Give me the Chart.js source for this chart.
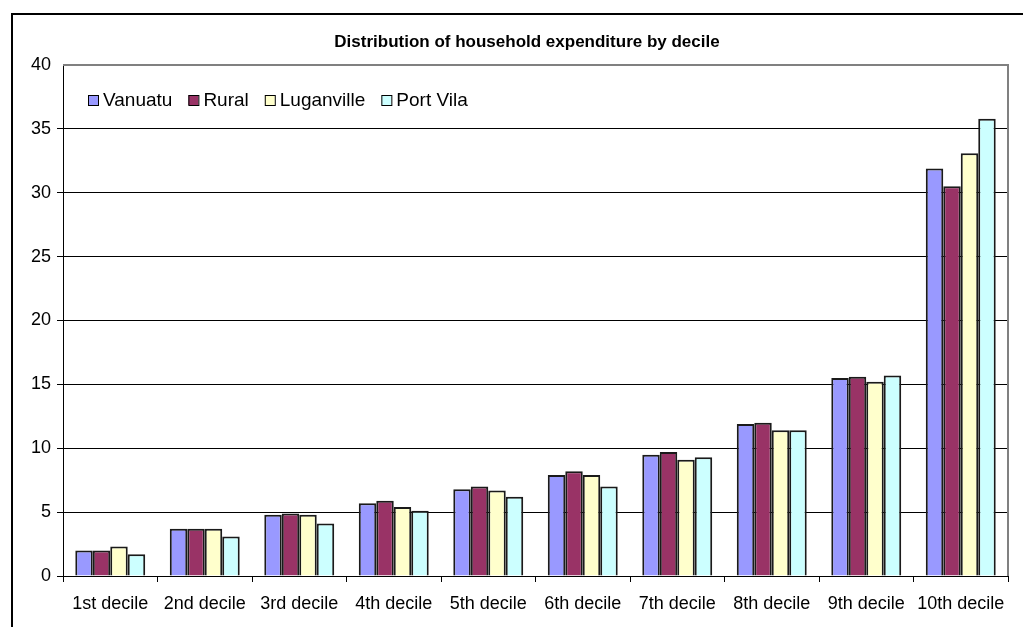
<!DOCTYPE html>
<html>
<head>
<meta charset="utf-8">
<title>Distribution of household expenditure by decile</title>
<script src="https://cdn.jsdelivr.net/npm/chart.js@4/dist/chart.umd.min.js"></script>
<style>
  html, body { margin: 0; padding: 0; background: #fff; }
  #wrap { position: relative; width: 1023px; height: 627px; overflow: hidden; }
  #frame { position: absolute; left: 11px; top: 13px; width: 1100px; height: 700px;
           border-left: 2px solid #000; border-top: 2px solid #000; box-sizing: border-box; }
  canvas { position: absolute; left: 0; top: 0; }
</style>
</head>
<body>
<div id="wrap">
  <div id="frame"></div>
  <canvas id="chart" width="1023" height="627"></canvas>
</div>
<script>
// Share of household expenditure (%) per decile
const deciles = ['1st decile', '2nd decile', '3rd decile', '4th decile', '5th decile',
                 '6th decile', '7th decile', '8th decile', '9th decile', '10th decile'];
const vanuatu    = [2.0, 3.7, 4.8, 5.7, 6.8, 7.9, 9.5, 11.9, 15.5, 31.9];
const rural      = [2.0, 3.7, 4.9, 5.9, 7.0, 8.2, 9.7, 12.0, 15.6, 30.5];
const luganville = [2.3, 3.7, 4.8, 5.4, 6.7, 7.9, 9.1, 11.4, 15.2, 33.1];
const portVila   = [1.7, 3.1, 4.1, 5.1, 6.2, 7.0, 9.3, 11.4, 15.7, 35.8];
const yTicks = [0, 5, 10, 15, 20, 25, 30, 35, 40];

const seriesNames  = ['Vanuatu', 'Rural', 'Luganville', 'Port Vila'];
const seriesValues = [vanuatu, rural, luganville, portVila];
const seriesColors = ['#9999FF', '#993366', '#FFFFCC', '#CCFFFF'];

const chartTitle = 'Distribution of household expenditure by decile';
const FONT = 'Arial, "Liberation Sans", sans-serif';

// Title centred over the framed chart, above the plot area
const framedTitle = {
  id: 'framedTitle',
  afterDraw(chart) {
    const { ctx } = chart;
    ctx.save();
    ctx.font = 'bold 17px ' + FONT;
    ctx.fillStyle = '#000';
    ctx.textAlign = 'center';
    ctx.textBaseline = 'middle';
    ctx.fillText(chartTitle, 527, 42);
    ctx.restore();
  }
};

// Legend drawn inside the plot area, top-left, on one row
const insideLegend = {
  id: 'insideLegend',
  afterDatasetsDraw(chart) {
    const { ctx, chartArea } = chart;
    ctx.save();
    ctx.font = '19px ' + FONT;
    ctx.textBaseline = 'middle';
    let x = chartArea.left + 25;
    const y = chartArea.top + 35;
    chart.data.datasets.forEach(ds => {
      ctx.fillStyle = ds.backgroundColor;
      ctx.fillRect(x, y - 5, 10, 10);
      ctx.strokeStyle = '#000';
      ctx.lineWidth = 1;
      ctx.strokeRect(x + 0.5, y - 4.5, 10, 10);
      ctx.fillStyle = '#000';
      ctx.fillText(ds.label, x + 15, y + 1);
      x += 15 + ctx.measureText(ds.label).width + 16;
    });
    ctx.restore();
  }
};

// Grey frame on the top and right sides of the plot area
const plotFrame = {
  id: 'plotFrame',
  beforeDatasetsDraw(chart) {
    const { ctx, chartArea } = chart;
    ctx.save();
    ctx.strokeStyle = '#808080';
    ctx.lineWidth = 2;
    ctx.beginPath();
    ctx.moveTo(chartArea.left, chartArea.top);
    ctx.lineTo(chartArea.right, chartArea.top);
    ctx.lineTo(chartArea.right, chartArea.bottom);
    ctx.stroke();
    ctx.restore();
  }
};

new Chart(document.getElementById('chart'), {
  type: 'bar',
  data: {
    labels: deciles,
    datasets: seriesNames.map((name, i) => ({
      label: name,
      data: seriesValues[i],
      backgroundColor: seriesColors[i],
      borderColor: '#1a1a1a',
      borderWidth: 2,
      borderSkipped: 'bottom',
      categoryPercentage: 0.74,
      barPercentage: 1.0
    }))
  },
  options: {
    responsive: false,
    animation: false,
    layout: { padding: { left: 0, right: 15, top: 65, bottom: 0 } },
    plugins: {
      legend: { display: false },
      tooltip: { enabled: false },
      title: { display: false }
    },
    scales: {
      x: {
        offset: true,
        grid: { drawOnChartArea: false, drawTicks: true, tickLength: 6, color: '#000', lineWidth: 1 },
        border: { color: '#000', width: 1 },
        ticks: { color: '#000', font: { family: FONT, size: 18 }, padding: 11, maxRotation: 0, autoSkip: false },
        afterFit(scale) { scale.height = 51; }
      },
      y: {
        min: 0,
        max: 40,
        afterBuildTicks(scale) { scale.ticks = yTicks.map(v => ({ value: v })); },
        grid: {
          color: ctx => (ctx.tick && ctx.tick.value === 40) ? 'rgba(0,0,0,0)' : '#000',
          lineWidth: 1,
          tickLength: 6
        },
        border: { color: '#000', width: 1 },
        ticks: { color: '#000', font: { family: FONT, size: 18 }, padding: 6 },
        afterFit(scale) { scale.width = 63; }
      }
    }
  },
  plugins: [plotFrame, insideLegend, framedTitle]
});
</script>
</body>
</html>
